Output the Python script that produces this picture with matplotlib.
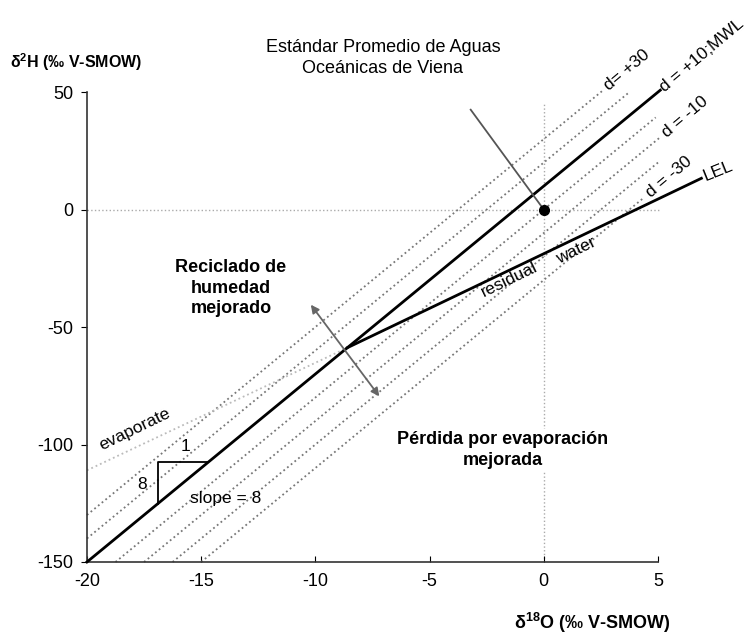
#---------------------------Librerias-------------------------------------------
import numpy as np
import matplotlib
matplotlib.use("Agg")
import matplotlib.pyplot as plt
#------------------------------------------------------------------------------

plt.rcParams['font.family'] = ['Liberation Sans', 'DejaVu Sans']
plt.rcParams['mathtext.default'] = 'regular'
plt.rcParams['axes.unicode_minus'] = False

#---------------------------Datos------------------------
# lineas de exceso de deuterio d: dH = 8*dO + d
d_vals = [30, 20, 0, -10, -20, -30]
d_x0 = [-20.0, -20.0, -18.75, -17.5, -16.25, -15.0]
d_x1 = [2.6, 3.7, 4.9, 5.1, 5.0, 4.4]
d_labels = ['d= +30', None, None, 'd = -10', None, 'd = -30']

# linea meteorica (MWL, d = +10)
mwl_d = 10
mwl_x = [-20.0, 5.1]

# linea de evaporacion local (LEL) y su prolongacion "evaporate"
lel_x = [-8.6, 6.9]
lel_y = [-58.8, 13.3]
evap_x = [-20.0, -8.6]
evap_y = [-111.0, -58.8]

# punto V-SMOW
smow = (0, 0)
smow_line_x = [-3.2, 0]
smow_line_y = [42.5, 0]

# flecha doble
arr_a = (-10.2, -40.5)
arr_b = (-7.2, -79.5)

# triangulo de pendiente
tri_x = [-16.9, -16.9, -14.69]
tri_y = [-125.2, -107.5, -107.5]

xticks = [-20, -15, -10, -5, 0, 5]
yticks = [-150, -100, -50, 0, 50]
#------------------------------------------------------------------------------

fig = plt.figure(figsize=(7.55, 6.35), dpi=100)
ax = fig.add_axes([0.1152, 0.115, 0.7563, 0.740])
ax.set_xlim(-20, 5)
ax.set_ylim(-150, 50)

gris = '#777777'

# ejes de referencia en cero
ax.plot([-20, 5.1], [0, 0], linestyle=':', color='#aaaaaa', lw=1.0, clip_on=False, zorder=1)
ax.plot([0, 0], [-150, 45], linestyle=':', color='#aaaaaa', lw=1.0, clip_on=False, zorder=1)

# lineas d
for d, x0, x1, lab in zip(d_vals, d_x0, d_x1, d_labels):
    xs = np.array([x0, x1])
    ax.plot(xs, 8 * xs + d, linestyle=':', color=gris, lw=1.3, clip_on=False, zorder=2)
    if lab is not None:
        ax.text(x1 + 0.15, 8 * x1 + d + 1.0, lab, rotation=40, rotation_mode='anchor',
                ha='left', va='center', fontsize=12.5, clip_on=False)

# MWL
xs = np.array(mwl_x)
ax.plot(xs, 8 * xs + mwl_d, color='black', lw=2.0, clip_on=False, zorder=3)
ax.text(mwl_x[1] + 0.05, 8 * mwl_x[1] + mwl_d + 0.5, 'd = +10;MWL', rotation=40,
        rotation_mode='anchor', ha='left', va='center', fontsize=12.5, clip_on=False)

# LEL
ax.plot(lel_x, lel_y, color='black', lw=2.0, clip_on=False, zorder=3)
ax.text(lel_x[1] + 0.1, lel_y[1] + 0.5, 'LEL', rotation=22, rotation_mode='anchor',
        ha='left', va='center', fontsize=12.5, clip_on=False)
ax.plot(evap_x, evap_y, linestyle=':', color='#bbbbbb', lw=1.3, zorder=2)

ax.text(-17.9, -93.4, 'evaporate', rotation=26, ha='center', va='center', fontsize=12.5)
ax.text(-1.5, -30.0, 'residual', rotation=26, ha='center', va='center', fontsize=12.5)
ax.text(1.4, -17.7, 'water', rotation=26, ha='center', va='center', fontsize=12.5)

# punto V-SMOW
ax.plot(smow_line_x, smow_line_y, color='#555555', lw=1.3, zorder=4)
ax.plot([smow[0]], [smow[1]], 'o', color='black', ms=7, zorder=5)

# flecha doble
ax.annotate('', xy=arr_a, xytext=arr_b,
            arrowprops=dict(arrowstyle='<|-|>', color='#666666', lw=1.3,
                            mutation_scale=12, shrinkA=0, shrinkB=0), zorder=4)

# triangulo pendiente
ax.plot(tri_x, tri_y, color='black', lw=1.3, zorder=3)
ax.text(-15.7, -101, '1', ha='center', va='center', fontsize=12.5)
ax.text(-17.6, -117, '8', ha='center', va='center', fontsize=12.5)
ax.text(-13.95, -123, 'slope = 8', ha='center', va='center', fontsize=12.5)

# textos
ax.text(-13.7, -33.4, 'Reciclado de\nhumedad\nmejorado', ha='center', va='center',
        fontsize=13, fontweight='bold', linespacing=1.25,
        bbox=dict(facecolor='white', edgecolor='none', pad=1))
ax.text(-1.8, -102.3, 'Pérdida por evaporación\nmejorada', ha='center', va='center',
        fontsize=13, fontweight='bold', linespacing=1.25,
        bbox=dict(facecolor='white', edgecolor='none', pad=2), zorder=6)
fig.text(383 / 755, 1 - 58 / 635, 'Estándar Promedio de Aguas\nOceánicas de Viena',
         ha='center', va='center', fontsize=13, linespacing=1.25)

# ejes
for s in ['top', 'right']:
    ax.spines[s].set_visible(False)
for s in ['left', 'bottom']:
    ax.spines[s].set_linewidth(1.2)
    ax.spines[s].set_color('#333333')
ax.set_xticks(xticks)
ax.set_yticks(yticks)
ax.tick_params(axis='x', direction='in', length=4, labelsize=13, pad=8)
ax.tick_params(axis='y', direction='out', length=4, labelsize=13, pad=6)

fig.text(10 / 755, 1 - 62 / 635, 'δ$^2$H (‰ V-SMOW)', ha='left', va='center',
         fontsize=11.5, fontweight='bold')
fig.text(592 / 755, 1 - 623 / 635, 'δ$^{18}$O (‰ V-SMOW)', ha='center', va='center',
         fontsize=13, fontweight='bold')

fig.savefig('out.png', dpi=100)
